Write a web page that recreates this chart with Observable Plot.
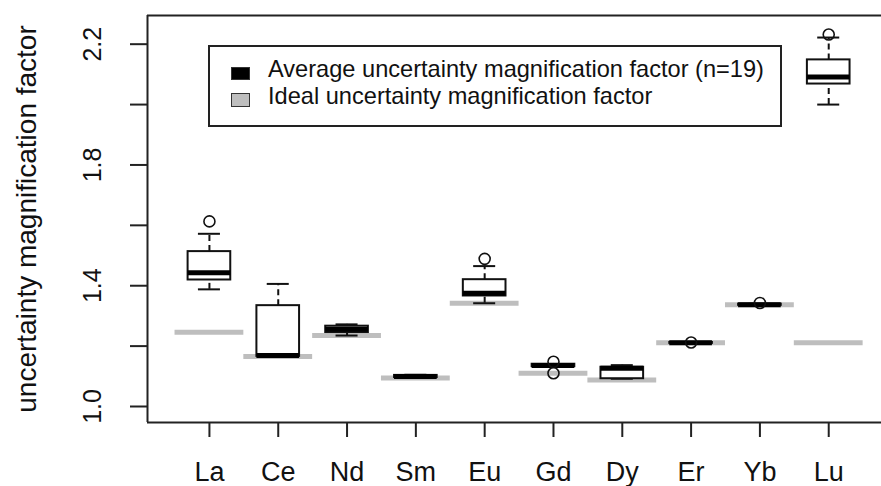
<!DOCTYPE html>
<html>
<head>
<meta charset="utf-8">
<script src="https://cdn.jsdelivr.net/npm/d3@7"></script>
<script src="https://cdn.jsdelivr.net/npm/@observablehq/plot@0.6"></script>
<style>
  html, body { margin: 0; padding: 0; background: white; }
  #wrap { position: relative; width: 881px; height: 486px; overflow: hidden; font-family: "Liberation Sans", Arial, sans-serif; }
  #wrap svg [aria-label^="x-axis"] line, #wrap svg [aria-label^="x-axis"] path,
  #wrap svg [aria-label^="y-axis"] line, #wrap svg [aria-label^="y-axis"] path { stroke-width: 2px; stroke: #222; }
  .legend { position: absolute; left: 208px; top: 45px; width: 574px; height: 82px; box-sizing: border-box;
            border: 2px solid #222; background: white; }
  .legend .item { position: absolute; left: 58px; font-size: 23.6px; line-height: 24px; color: #111; white-space: nowrap; }
  .legend .sw { position: absolute; left: 21px; width: 19px; height: 13px; box-sizing: border-box; border: 1.5px solid #333; }
</style>
</head>
<body>
<div id="wrap">
  <div class="legend">
    <div class="sw" style="top:20px;background:#000;"></div>
    <div class="item" style="top:10px;">Average uncertainty magnification factor (n=19)</div>
    <div class="sw" style="top:46px;height:14px;background:#bebebe;"></div>
    <div class="item" style="top:36.5px;">Ideal uncertainty magnification factor</div>
  </div>
</div>
<script>
// ---- data ----
const elements    = ["La", "Ce", "Nd", "Sm", "Eu", "Gd", "Dy", "Er", "Yb", "Lu"];
const whiskerLow  = [1.388, 1.166, 1.235, 1.095, 1.342, 1.132, 1.092, 1.208, 1.334, 2.000];
const quartile1   = [1.419, 1.166, 1.245, 1.096, 1.366, 1.132, 1.092, 1.209, 1.335, 2.068];
const medians     = [1.443, 1.169, 1.256, 1.099, 1.375, 1.136, 1.127, 1.211, 1.337, 2.091];
const quartile3   = [1.513, 1.334, 1.266, 1.103, 1.420, 1.140, 1.130, 1.212, 1.339, 2.148];
const whiskerHigh = [1.572, 1.406, 1.272, 1.105, 1.465, 1.140, 1.137, 1.213, 1.340, 2.222];
const outliers    = [[1.613], [], [], [], [1.489], [1.148, 1.110], [], [1.212], [1.343], [2.232]];
const idealFactor = [1.246, 1.166, 1.235, 1.094, 1.342, 1.110, 1.088, 1.211, 1.337, 1.211];
const yTicks      = [1.0, 1.2, 1.4, 1.6, 1.8, 2.0, 2.2];
const yTickLabels = ["1.0", "1.4", "1.8", "2.2"];
const yTitle      = "uncertainty magnification factor";

const xDomain = [0.1, 10.767];
const yDomain = [0.947, 2.295];

const rows = elements.map((name, k) => ({
  i: k + 1, name,
  lo: whiskerLow[k], q1: quartile1[k], med: medians[k], q3: quartile3[k], hi: whiskerHigh[k],
  ideal: idealFactor[k]
}));
const outRows = outliers.flatMap((vals, k) => vals.map(v => ({i: k + 1, v})));

const BOX = 0.31, CAP = 0.16, IDEAL = 0.5;
const ink = "#111";

const chart = Plot.plot({
  width: 881, height: 486,
  marginLeft: 147, marginRight: 0, marginTop: 15, marginBottom: 64,
  style: {fontFamily: "Liberation Sans, Arial, sans-serif", fontSize: "24px", background: "white", color: "#111"},
  x: {domain: xDomain, ticks: rows.map(d => d.i), tickSize: 15, tickFormat: () => "", label: null},
  y: {domain: yDomain, ticks: yTicks, tickSize: 17, tickFormat: () => "", label: null},
  marks: [
    // ideal factor (grey)
    Plot.ruleY(rows, {y: "ideal", x1: d => d.i - IDEAL, x2: d => d.i + IDEAL, stroke: "#bebebe", strokeWidth: 5}),
    // whiskers
    Plot.ruleX(rows, {x: "i", y1: "q3", y2: "hi", stroke: ink, strokeWidth: 2, strokeDasharray: "6,4"}),
    Plot.ruleX(rows, {x: "i", y1: "lo", y2: "q1", stroke: ink, strokeWidth: 2, strokeDasharray: "6,4"}),
    Plot.ruleY(rows, {y: "hi", x1: d => d.i - CAP, x2: d => d.i + CAP, stroke: ink, strokeWidth: 2}),
    Plot.ruleY(rows, {y: "lo", x1: d => d.i - CAP, x2: d => d.i + CAP, stroke: ink, strokeWidth: 2}),
    // boxes
    Plot.rect(rows, {x1: d => d.i - BOX, x2: d => d.i + BOX, y1: "q1", y2: "q3", fill: "white", stroke: ink, strokeWidth: 2}),
    Plot.ruleY(rows, {y: "med", x1: d => d.i - BOX, x2: d => d.i + BOX, stroke: "#000", strokeWidth: 5}),
    // outliers
    Plot.dot(outRows, {x: "i", y: "v", r: 5.5, stroke: ink, strokeWidth: 1.6, fill: "none"}),
    // frame (left, top, bottom; right edge is cut off)
    Plot.ruleX([xDomain[0]], {stroke: "#222", strokeWidth: 2}),
    Plot.ruleY(yDomain, {stroke: "#222", strokeWidth: 2}),
    // x tick labels
    Plot.text(rows, {x: "i", text: "name", frameAnchor: "bottom", lineAnchor: "bottom", dy: 58, fontSize: 27, fill: ink}),
    // y tick labels (rotated, like R)
    Plot.text(yTickLabels, {x: () => xDomain[0], y: d => +d, text: d => d, rotate: -90, textAnchor: "middle", lineAnchor: "bottom", dx: -47, fontSize: 25, fill: ink}),
    // y title
    Plot.text([yTitle], {frameAnchor: "left", text: d => d, rotate: -90, textAnchor: "middle", lineAnchor: "bottom", dx: -112, fontSize: 28, fill: ink})
  ]
});
document.getElementById("wrap").prepend(chart);
</script>
</body>
</html>
